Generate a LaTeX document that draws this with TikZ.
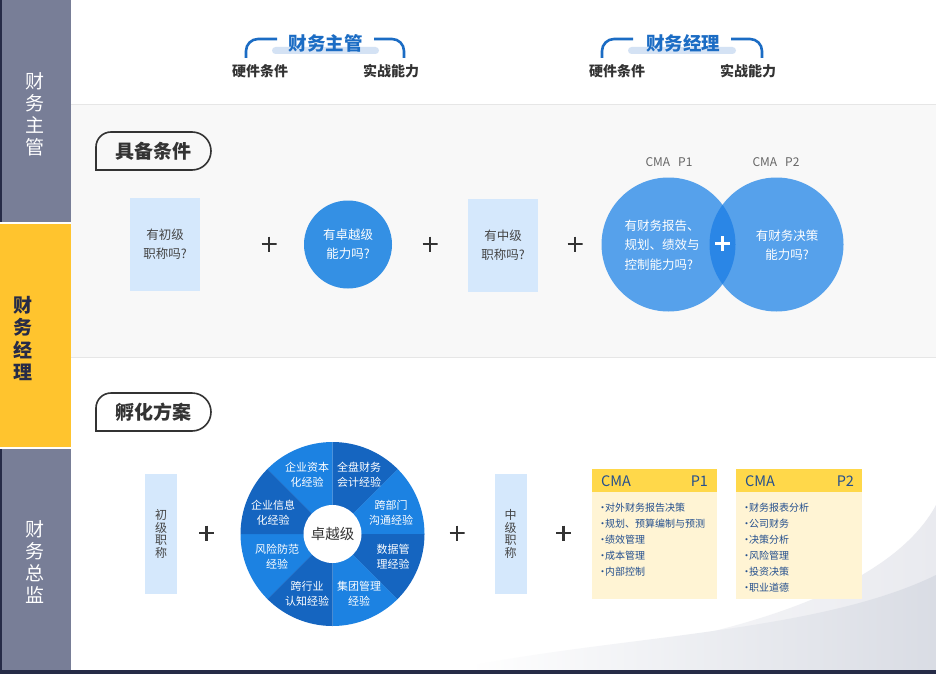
\documentclass[tikz,border=0pt]{standalone}
\usepackage{fontspec}
\setmainfont{Noto Sans CJK SC}
\newcommand\myfs[2]{\fontsize{#1}{#2}\selectfont}
\newcommand\mydot{\makebox[5pt][c]{·}}
\definecolor{sbgray}{HTML}{787E97}
\definecolor{sbyellow}{HTML}{FFC42E}
\definecolor{navy}{HTML}{262B47}
\definecolor{secbg}{HTML}{F8F8F8}
\definecolor{sepc}{HTML}{E6E6E6}
\definecolor{lrect}{HTML}{D5E8FC}
\definecolor{blueA}{HTML}{3490E4}
\definecolor{vennc}{HTML}{56A1EB}
\definecolor{ovlc}{HTML}{2A86E6}
\definecolor{wlight}{HTML}{1C82E2}
\definecolor{wdark}{HTML}{1565C0}
\definecolor{tblue}{HTML}{1B6CC4}
\definecolor{barc}{HTML}{D4E2F4}
\definecolor{cmah}{HTML}{FFD84A}
\definecolor{cmab}{HTML}{FFF4D4}
\definecolor{cmat}{HTML}{244F8E}
\definecolor{darktxt}{HTML}{333333}
\definecolor{midtxt}{HTML}{444444}
\definecolor{graytxt}{HTML}{666666}
\definecolor{swoosh}{HTML}{D9DCE4}
\definecolor{swooshb}{HTML}{E9EAEF}
\begin{document}
\begin{tikzpicture}[x=1pt,y=-1pt,
  every node/.style={inner sep=0pt, outer sep=0pt},
  sidetxt/.style={align=center, font=\myfs{19}{22}},
  titletxt/.style={text=tblue, font=\myfs{18.5}{20}\bfseries},
  subtxt/.style={text=darktxt, font=\myfs{14}{16}\bfseries},
  bracket/.style={draw=tblue, line width=2.6pt, rounded corners=12pt},
  tabline/.style={draw=darktxt, line width=1.6pt},
  tabtxt/.style={text=darktxt, font=\myfs{19}{20}\bfseries},
  qbox/.style={fill=lrect, minimum width=70pt, minimum height=93pt, text=midtxt, align=center, font=\myfs{12.5}{19}},
  vbox/.style={fill=lrect, minimum width=32pt, minimum height=120pt, text=midtxt, align=center, font=\myfs{12}{12.8}},
  plusmark/.style={minimum size=15pt, path picture={\draw[line width=2.4pt, #1] (path picture bounding box.north) -- (path picture bounding box.south) (path picture bounding box.west) -- (path picture bounding box.east);}},
  plusmark/.default=darktxt,
  cmalabel/.style={text=graytxt, font=\myfs{12}{14}},
  wtxt/.style={text=white, align=center, font=\myfs{11}{15}},
  cmahead/.style={text=cmat, font=\myfs{14.5}{16}},
  cmalist/.style={text=cmat, align=left, anchor=west, font=\myfs{10}{16}},
]
\useasboundingbox (0,0) rectangle (936,674);
% backgrounds
\fill[white] (0,0) rectangle (936,674);
\fill[secbg] (71,105) rectangle (936,357);
\draw[sepc, line width=1pt] (71,105) -- (936,105);
\draw[sepc, line width=1pt] (71,357.5) -- (936,357.5);
% swoosh
\shade[left color=white, right color=swooshb] (936,505) .. controls (900,572) and (780,642) .. (470,669) -- (470,670) -- (936,670) -- cycle;
\shade[left color=white, right color=swoosh] (470,666) .. controls (620,636) and (820,632) .. (936,575) -- (936,670) -- (470,670) -- cycle;
\fill[navy] (0,670) rectangle (936,674);
% sidebar
\fill[sbgray] (0,0) rectangle (71,222);
\fill[sbyellow] (0,224) rectangle (71,447);
\fill[sbgray] (0,449) rectangle (71,670);
\fill[navy] (0,0) rectangle (1.5,222);
\fill[navy] (0,449) rectangle (1.5,670);
\node[sidetxt, text=white] (s1) at (35,114.5) {财\\务\\主\\管};
\node[sidetxt, text=navy, font=\myfs{19}{22.5}\bfseries] (s2) at (23,338.5) {财\\务\\经\\理};
\node[sidetxt, text=white] (s3) at (35,562) {财\\务\\总\\监};
% header group 1
\fill[barc, rounded corners=3.5pt] (272,47) rectangle (379,54);
\node[titletxt] (t1) at (325.5,43.5) {财务主管};
\draw[bracket] (246,58) -- (246,39) -- (277,39);
\draw[bracket] (374,39) -- (404,39) -- (404,58);
\node[subtxt] (h1) at (260,71) {硬件条件};
\node[subtxt] (r1) at (391,71) {实战能力};
% header group 2
\fill[barc, rounded corners=3.5pt] (628,47) rectangle (736,54);
\node[titletxt] (t2) at (683,43.5) {财务经理};
\draw[bracket] (602,58) -- (602,39) -- (633,39);
\draw[bracket] (731,39) -- (762,39) -- (762,58);
\node[subtxt] (h2) at (617,71) {硬件条件};
\node[subtxt] (r2) at (748,71) {实战能力};
% tab 1
\draw[tabline] (96,170) -- (96,147) .. controls (96,138.7) and (102.7,132) .. (111,132) -- (192,132) .. controls (202.5,132) and (211,140.5) .. (211,151) .. controls (211,161.5) and (202.5,170) .. (192,170) -- cycle;
\node[tabtxt] (tab1) at (153,151) {具备条件};
% row 1
\node[qbox] (q1) at (165,244.5) {有初级\\职称吗?};
\node[plusmark] (p1) at (269,244) {};
\node[circle, fill=blueA, minimum size=88pt, text=white, align=center, font=\myfs{12.5}{19}] (q2) at (348,244.5) {有卓越级\\能力吗?};
\node[plusmark] (p2) at (430,244) {};
\node[qbox] (q3) at (503,245.5) {有中级\\职称吗?};
\node[plusmark] (p3) at (575,244) {};
\node[circle, fill=vennc, minimum size=134pt] (v1) at (668.5,244.5) {};
\node[circle, fill=vennc, minimum size=134pt] (v2) at (776.5,244.5) {};
\begin{scope}
  \clip (v1.center) circle[radius=67pt];
  \fill[ovlc] (v2.center) circle[radius=67pt];
\end{scope}
\node[text=white, align=left, anchor=west, font=\myfs{12.5}{19.5}] (v1t) at (624.5,245) {有财务报告、\\规划、绩效与\\控制能力吗?};
\node[text=white, align=center, font=\myfs{12.5}{19}] (v2t) at (787,245) {有财务决策\\能力吗?};
\node[plusmark=white] (p4) at (722.5,243.5) {};
\node[cmalabel] (c1) at (669,162) {CMA\hspace{8pt}P1};
\node[cmalabel] (c2) at (776,162) {CMA\hspace{8pt}P2};
% tab 2
\draw[tabline] (96,431) -- (96,408) .. controls (96,399.7) and (102.7,393) .. (111,393) -- (192,393) .. controls (202.5,393) and (211,401.5) .. (211,412) .. controls (211,422.5) and (202.5,431) .. (192,431) -- cycle;
\node[tabtxt] (tab2) at (153,412) {孵化方案};
% row 2
\node[vbox] (k1) at (161,534) {初\\级\\职\\称};
\node[plusmark] (p5) at (206.5,533) {};
\begin{scope}[shift={(332.5,534)}, yscale=-1]
  \foreach \a in {0,90,180,270} {
    \fill[wlight] (0,0) -- (\a:92) arc[start angle=\a, end angle=\a+45, radius=92] -- cycle;
  }
  \foreach \a in {45,135,225,315} {
    \fill[wdark] (0,0) -- (\a:92) arc[start angle=\a, end angle=\a+45, radius=92] -- cycle;
  }
\end{scope}
\node[circle, fill=white, minimum size=58pt, text=darktxt, font=\myfs{14.5}{16}] (wc) at (332.5,534) {卓越级};
\node[wtxt] (ws1) at (307,474.5) {企业资本\\化经验};
\node[wtxt] (ws2) at (359,474.5) {全盘财务\\会计经验};
\node[wtxt] (ws3) at (391,512.5) {跨部门\\沟通经验};
\node[wtxt] (ws4) at (393,556.5) {数据管\\理经验};
\node[wtxt] (ws5) at (359,593.5) {集团管理\\经验};
\node[wtxt] (ws6) at (307,593.5) {跨行业\\认知经验};
\node[wtxt] (ws7) at (277,556.5) {风险防范\\经验};
\node[wtxt] (ws8) at (273,512.5) {企业信息\\化经验};
\node[plusmark] (p6) at (457,533) {};
\node[vbox] (k2) at (510.5,534) {中\\级\\职\\称};
\node[plusmark] (p7) at (563.5,533) {};
% CMA boxes
\node[fill=cmab, minimum width=125pt, minimum height=130pt, anchor=north west] (b1) at (592,469) {};
\node[fill=cmah, minimum width=125pt, minimum height=23pt, anchor=north west] (b1h) at (592,469) {};
\node[cmahead, anchor=west] (b1a) at (601,481) {CMA};
\node[cmahead, anchor=east] (b1b) at (708,481) {P1};
\node[cmalist] (b1l) at (600,540) {\mydot 对外财务报告决策\\\mydot 规划、预算编制与预测\\\mydot 绩效管理\\\mydot 成本管理\\\mydot 内部控制};
\node[fill=cmab, minimum width=126pt, minimum height=130pt, anchor=north west] (b2) at (736,469) {};
\node[fill=cmah, minimum width=126pt, minimum height=23pt, anchor=north west] (b2h) at (736,469) {};
\node[cmahead, anchor=west] (b2a) at (745,481) {CMA};
\node[cmahead, anchor=east] (b2b) at (854,481) {P2};
\node[cmalist] (b2l) at (744,548) {\mydot 财务报表分析\\\mydot 公司财务\\\mydot 决策分析\\\mydot 风险管理\\\mydot 投资决策\\\mydot 职业道德};
\end{tikzpicture}
\end{document}
